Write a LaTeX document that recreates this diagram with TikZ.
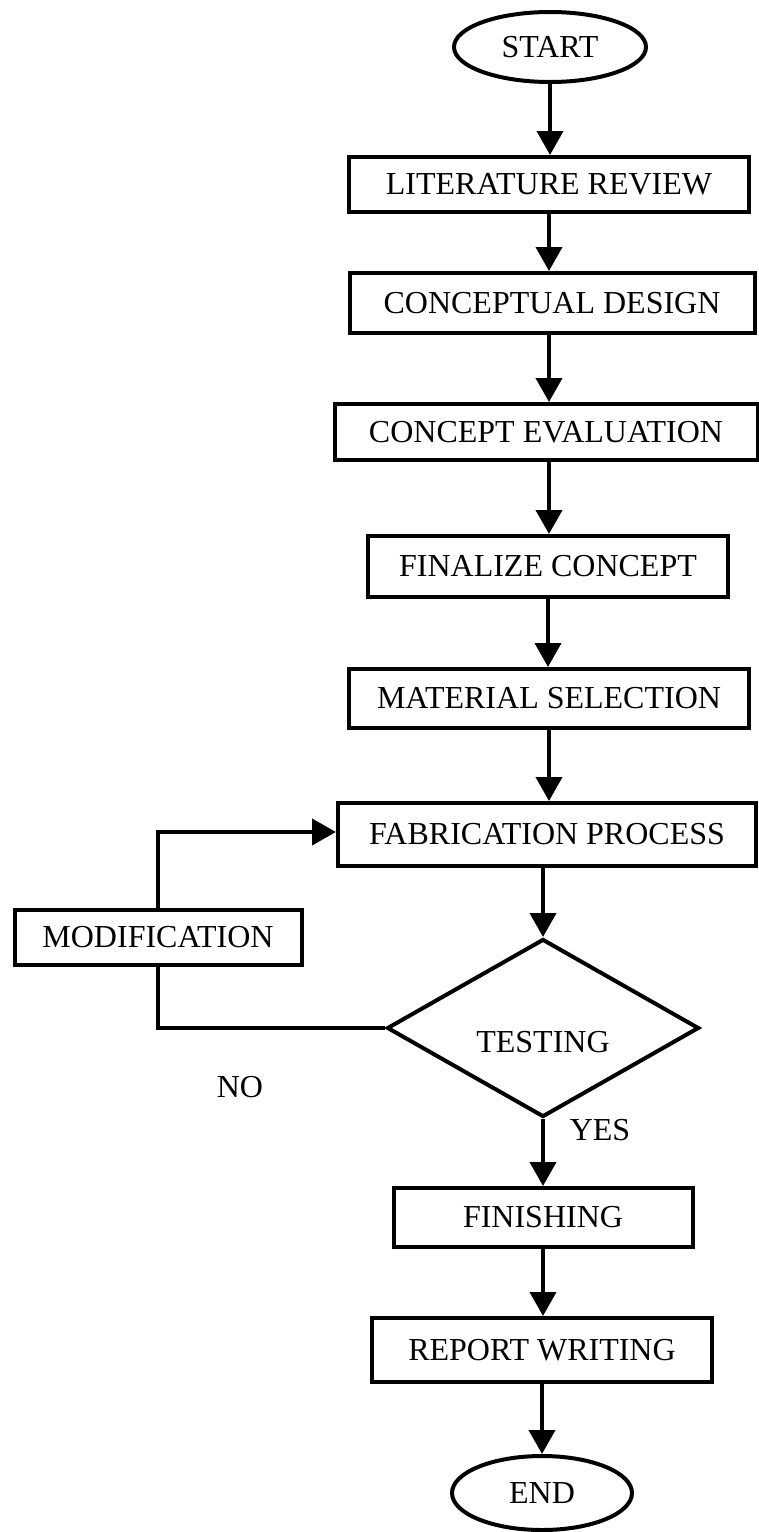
\documentclass[tikz,border=0pt]{standalone}
\usepackage{fontspec}
\setmainfont{Liberation Serif}
\usetikzlibrary{shapes.geometric,arrows.meta}
\begin{document}
\begin{tikzpicture}[x=1pt,y=-1pt,
  every node/.style={font=\fontsize{32}{37}\selectfont},
  box/.style={draw, line width=4pt, rectangle, inner sep=0pt},
  term/.style={draw, line width=4pt, ellipse, inner sep=0pt},
  dec/.style={draw, line width=4pt, diamond, inner sep=0pt},
  arr/.style={line width=4pt, -{Triangle[width=26pt,length=24pt]}},
  conn/.style={line width=4pt}]
\useasboundingbox (0,0) rectangle (758,1532);
\node[term, minimum width=192pt, minimum height=70pt] (start) at (550,47) {START};
\node[box, minimum width=400pt, minimum height=55pt] (lr) at (549,184.5) {LITERATURE REVIEW};
\node[box, minimum width=405pt, minimum height=60pt] (cd) at (552,303) {CONCEPTUAL DESIGN};
\node[box, minimum width=423pt, minimum height=56pt] (ce) at (546,432) {CONCEPT EVALUATION};
\node[box, minimum width=360pt, minimum height=61pt] (fc) at (548,566.5) {FINALIZE CONCEPT};
\node[box, minimum width=400pt, minimum height=59pt] (ms) at (549,698.5) {MATERIAL SELECTION};
\node[box, minimum width=418pt, minimum height=63pt] (fp) at (547,834.5) {FABRICATION PROCESS};
\node[box, minimum width=287pt, minimum height=55pt] (mod) at (158,937.5) {MODIFICATION};
\node[dec, minimum width=312pt, minimum height=178pt,
      label={[yshift=-14pt]center:TESTING}] (test) at (543,1028) {};
\node[box, minimum width=299pt, minimum height=59pt] (fin) at (543,1217.5) {FINISHING};
\node[box, minimum width=340pt, minimum height=64pt] (rw) at (542,1350) {REPORT WRITING};
\node[term, minimum width=180pt, minimum height=74pt] (end) at (542,1493) {END};
\node (no) at (240,1087) {NO};
\node (yes) at (600,1130) {YES};

\draw[arr] (start.south) -- (start.south |- lr.north);
\draw[arr] (lr.south) -- (lr.south |- cd.north);
\draw[arr] (lr.south |- cd.south) -- (lr.south |- ce.north);
\draw[arr] (lr.south |- ce.south) -- (lr.south |- fc.north);
\draw[arr] (fc.south) -- (fc.south |- ms.north);
\draw[arr] (ms.south) -- (ms.south |- fp.north);
\draw[arr] (test.north |- fp.south) -- (test.north);
\draw[arr] (test.south) -- (test.south |- fin.north);
\draw[arr] (fin.south) -- (fin.south |- rw.north);
\draw[arr] (rw.south) -- (rw.south |- end.north);
\draw[conn] (test.west) -| (mod.south);
\draw[arr] (mod.north) |- ([yshift=2.5pt]fp.west);
\end{tikzpicture}
\end{document}
